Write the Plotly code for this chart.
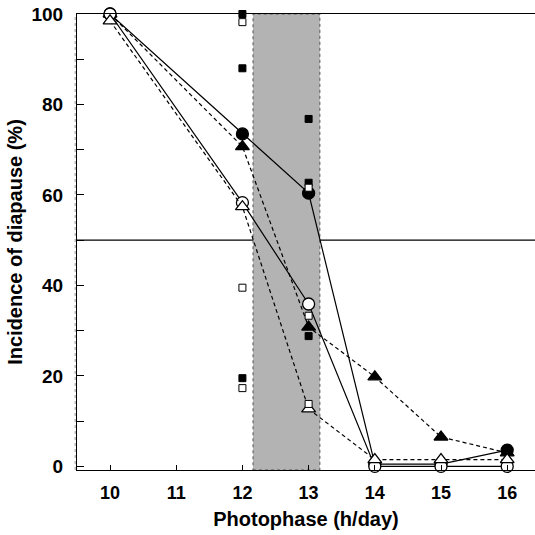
import plotly.graph_objects as go

# ---- data ----
photophase = [10, 12, 13, 14, 15, 16]
filled_circle = [100, 73.5, 60.4, 0.5, 0.5, 3.6]
open_circle = [100, 58.3, 35.9, 0, 0, 0]
filled_triangle = [100, 70.7, 30.8, 19.8, 6.5, 3.0]
open_triangle = [98.5, 57.4, 12.7, 1.5, 1.5, 1.5]

sq_x = [12, 12, 12, 13, 13, 13]
filled_square = [100, 88, 19.5, 76.8, 62.7, 28.8]
open_square = [98.2, 39.5, 17.3, 61.6, 33.3, 13.8]

shade_x = [12.16, 13.17]
x_ticks = [10, 11, 12, 13, 14, 15, 16]
y_ticks = [0, 20, 40, 60, 80, 100]

FONT = "Liberation Sans"

fig = go.Figure()

def add_series(y, symbol, fill, dash, size):
    fig.add_trace(go.Scatter(
        x=photophase, y=y, mode="lines+markers", cliponaxis=False,
        line=dict(color="black", width=1.2, dash=dash),
        marker=dict(symbol=symbol, size=size, color=fill,
                    line=dict(color="black", width=1.3)),
        showlegend=False))

add_series(filled_circle, "circle", "black", "solid", 12)
add_series(filled_triangle, "triangle-up", "black", "4px,3px", 12)
add_series(open_circle, "circle", "white", "solid", 12)
add_series(open_triangle, "triangle-up", "white", "4px,3px", 12)

fig.add_trace(go.Scatter(
    x=sq_x, y=filled_square, mode="markers", cliponaxis=False,
    marker=dict(symbol="square", size=7, color="black",
                line=dict(color="black", width=1)), showlegend=False))
fig.add_trace(go.Scatter(
    x=sq_x, y=open_square, mode="markers", cliponaxis=False,
    marker=dict(symbol="square", size=7, color="white",
                line=dict(color="black", width=1)), showlegend=False))

fig.add_shape(type="rect", xref="x", yref="y",
              x0=shade_x[0], x1=shade_x[1], y0=-0.8, y1=100,
              fillcolor="#b3b3b3", layer="below",
              line=dict(color="#555555", width=1, dash="dot"))
fig.add_shape(type="line", xref="paper", yref="y", x0=0, x1=1, y0=50, y1=50,
              line=dict(color="black", width=1.2), layer="below")
# faint dotted rule just left of the y axis, as in the reference
fig.add_shape(type="line", xref="paper", yref="paper", x0=-0.004, x1=-0.004, y0=0, y1=1,
              line=dict(color="#999999", width=1, dash="dot"), layer="below")

fig.update_layout(
    width=535, height=535,
    margin=dict(l=77, r=0, t=14, b=65),
    paper_bgcolor="white", plot_bgcolor="white",
    font=dict(family=FONT, color="black"),
)
fig.update_xaxes(
    range=[9.501, 16.42], tickvals=x_ticks,
    ticktext=[f"<b>{t}</b>" for t in x_ticks],
    ticks="inside", ticklen=5, tickwidth=1, tickcolor="black",
    showline=True, linecolor="black", linewidth=1.2, mirror=True,
    showgrid=False, zeroline=False,
    tickfont=dict(size=18, family=FONT), ticklabelstandoff=6,
    title=dict(text="<b>Photophase (h/day)</b>", font=dict(size=20, family=FONT), standoff=10),
)
fig.update_yaxes(
    range=[-0.8, 100], tickvals=y_ticks,
    ticktext=[f"<b>{t}</b>" for t in y_ticks],
    ticks="inside", ticklen=7, tickwidth=1, tickcolor="black",
    minor=dict(tickvals=[10, 30, 50, 70, 90], ticks="inside", ticklen=7, tickcolor="black"),
    showline=True, linecolor="black", linewidth=1.2,
    showgrid=False, zeroline=False,
    tickfont=dict(size=19, family=FONT), ticklabelstandoff=9,
    title=dict(text="<b>Incidence of diapause (%)</b>", font=dict(size=20, family=FONT), standoff=3),
)

fig.write_html("out.html")
